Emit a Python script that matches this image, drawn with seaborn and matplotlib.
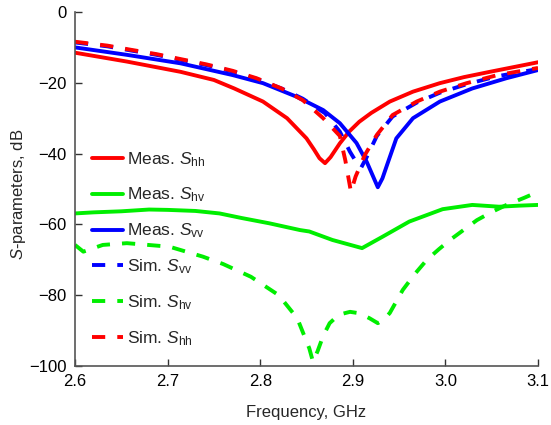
import numpy as np
import pandas as pd
import matplotlib
matplotlib.use("Agg")
import matplotlib.pyplot as plt
import seaborn as sns

# ---- data ----
f_meas_hh = [2.60, 2.656, 2.714, 2.750, 2.772, 2.803, 2.829, 2.850, 2.858, 2.864, 2.870, 2.876, 2.886, 2.896, 2.907, 2.920, 2.940, 2.965, 2.994, 3.020, 3.048, 3.075, 3.10]
s_meas_hh = [-11.5, -14.0, -16.9, -19.2, -21.6, -25.3, -30.0, -35.7, -38.8, -41.3, -42.7, -41.0, -37.1, -33.8, -31.0, -28.5, -25.3, -22.5, -20.1, -18.4, -16.9, -15.5, -14.2]

f_meas_hv = [2.60, 2.62, 2.65, 2.68, 2.70, 2.73, 2.756, 2.78, 2.81, 2.843, 2.853, 2.878, 2.91, 2.932, 2.961, 2.997, 3.029, 3.058, 3.08, 3.10]
s_meas_hv = [-56.9, -56.6, -56.3, -55.8, -55.9, -56.2, -56.9, -58.2, -59.7, -61.6, -62.0, -64.4, -66.7, -63.5, -59.2, -55.7, -54.5, -55.0, -54.7, -54.5]

f_meas_vv = [2.60, 2.656, 2.714, 2.770, 2.803, 2.839, 2.868, 2.886, 2.904, 2.915, 2.922, 2.927, 2.932, 2.937, 2.947, 2.965, 2.994, 3.029, 3.066, 3.10]
s_meas_vv = [-10.0, -12.1, -14.5, -17.8, -20.1, -23.9, -27.7, -31.4, -37.0, -42.3, -46.5, -49.5, -47.0, -43.2, -35.7, -30.0, -25.3, -21.6, -18.7, -16.4]

f_sim_vv = [2.60, 2.635, 2.661, 2.688, 2.714, 2.742, 2.770, 2.796, 2.823, 2.846, 2.870, 2.886, 2.897, 2.904, 2.909, 2.915, 2.926, 2.943, 2.969, 2.994, 3.023, 3.055, 3.10]
s_sim_vv = [-8.6, -9.7, -10.9, -12.1, -13.5, -15.0, -16.8, -18.9, -21.6, -24.5, -28.6, -33.8, -39.5, -42.5, -44.0, -41.0, -35.0, -29.5, -25.6, -22.8, -20.4, -18.2, -16.1]

f_sim_hv = [2.60, 2.609, 2.63, 2.656, 2.702, 2.738, 2.76, 2.79, 2.82, 2.84, 2.853, 2.857, 2.862, 2.868, 2.875, 2.885, 2.897, 2.907, 2.918, 2.927, 2.934, 2.94, 2.954, 2.967, 2.98, 2.993, 3.005, 3.02, 3.034, 3.05, 3.066, 3.085, 3.10]
s_sim_hv = [-65.8, -67.7, -65.8, -65.3, -66.3, -69.1, -71.2, -74.8, -80.0, -86.5, -95.0, -98.8, -95.8, -91.5, -87.9, -85.5, -84.7, -85.1, -86.5, -87.9, -86.8, -85.0, -78.5, -74.0, -70.0, -67.0, -64.4, -61.5, -58.8, -56.5, -54.5, -52.5, -50.8]

f_sim_hh = [2.60, 2.635, 2.661, 2.688, 2.714, 2.742, 2.770, 2.796, 2.823, 2.846, 2.868, 2.886, 2.892, 2.898, 2.903, 2.913, 2.926, 2.943, 2.969, 2.994, 3.023, 3.055, 3.10]
s_sim_hh = [-8.4, -9.5, -10.7, -11.9, -13.3, -14.8, -16.6, -18.7, -21.6, -24.9, -30.0, -35.0, -42.0, -50.8, -46.5, -40.4, -34.7, -29.1, -25.3, -22.5, -20.1, -17.9, -15.8]

x_ticks = [2.6, 2.7, 2.8, 2.9, 3.0, 3.1]
x_ticklabels = ["2.6", "2.7", "2.8", "2.9", "3.0", "3.1"]
y_ticks = [0, -20, -40, -60, -80, -100]
y_ticklabels = ["0", "\u221220", "\u221240", "\u221260", "\u221280", "\u2212100"]

series = [
    ("Meas. $S_{\\mathrm{hh}}$", f_meas_hh, s_meas_hh, "#ff0000", "-"),
    ("Meas. $S_{\\mathrm{hv}}$", f_meas_hv, s_meas_hv, "#00ee00", "-"),
    ("Meas. $S_{\\mathrm{vv}}$", f_meas_vv, s_meas_vv, "#0000ff", "-"),
    ("Sim. $S_{\\mathrm{vv}}$", f_sim_vv, s_sim_vv, "#0000ff", "--"),
    ("Sim. $S_{\\mathrm{hv}}$", f_sim_hv, s_sim_hv, "#00ee00", "--"),
    ("Sim. $S_{\\mathrm{hh}}$", f_sim_hh, s_sim_hh, "#ff0000", "--"),
]

sns.set_theme(style="ticks")
plt.rcParams["font.family"] = ["Liberation Sans", "DejaVu Sans"]
plt.rcParams["mathtext.fontset"] = "custom"
plt.rcParams["mathtext.rm"] = "Liberation Sans"
plt.rcParams["mathtext.it"] = "Liberation Sans:italic"
plt.rcParams["mathtext.bf"] = "Liberation Sans:bold"

fig = plt.figure(figsize=(5.51, 4.25), dpi=100)
ax = fig.add_axes([75/551, 1 - 366/425, (538-75)/551, (366-12)/425])

for label, f, s, c, ls in series:
    df = pd.DataFrame({"f": f, "s": s})
    sns.lineplot(data=df, x="f", y="s", ax=ax, color=c, lw=2.8,
                 label=label, sort=False, estimator=None)
    ln = ax.lines[-1]
    ln.set_solid_joinstyle("round")
    if ls == "--":
        ln.set_dashes((3.4, 3.1))
        ln.set_dash_capstyle("butt")

ax.set_xlim(2.6, 3.1)
ax.set_ylim(-100, 0)
ax.set_xticks(x_ticks)
ax.set_xticklabels(x_ticklabels)
ax.set_yticks(y_ticks)
ax.set_yticklabels(y_ticklabels)
ax.tick_params(direction="in", length=5, width=1, colors="#333333",
               labelcolor="black", labelsize=12, pad=6)
for sp in ["top", "right"]:
    ax.spines[sp].set_visible(False)
for sp in ["left", "bottom"]:
    ax.spines[sp].set_color("#555555")
    ax.spines[sp].set_linewidth(1.2)

ax.set_xlabel("Frequency, GHz", fontsize=12, labelpad=11)
ax.set_ylabel("$S$-parameters, dB", fontsize=12, labelpad=1)
ax.yaxis.label.set_y(0.485)

leg = ax.legend(loc="upper left", bbox_to_anchor=(0.011, 0.645), frameon=False,
                fontsize=12.5, handlelength=1.75, handletextpad=0.25,
                labelspacing=0.99, borderaxespad=0.3)

fig.savefig("out.png", dpi=100)
